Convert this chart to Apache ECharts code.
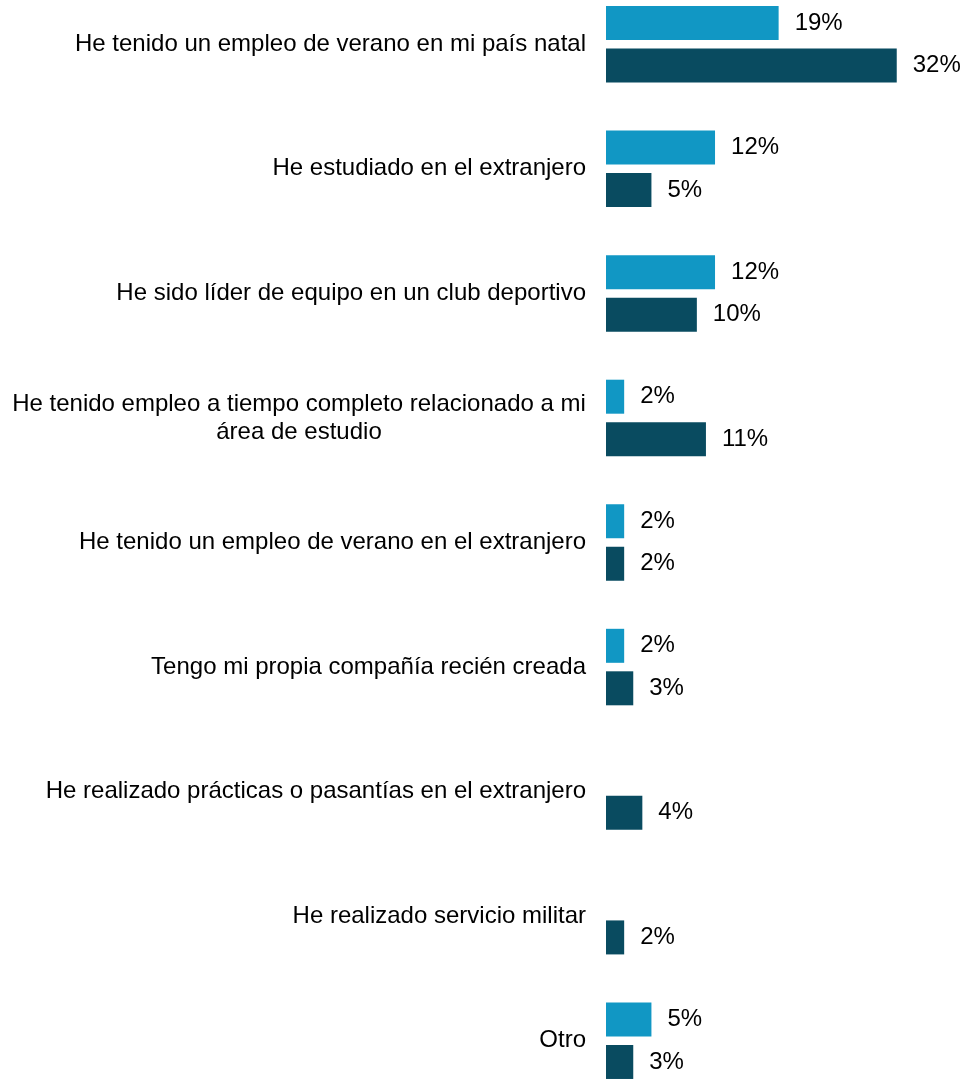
<!DOCTYPE html>
<html>
<head>
<meta charset="utf-8">
<script src="https://cdn.jsdelivr.net/npm/echarts@6/dist/echarts.min.js"></script>
<style>
html,body{margin:0;padding:0;background:#fff;overflow:hidden;width:962px;height:1079px;position:relative;}
#c{position:absolute;left:0;top:-18px;width:962px;height:1121px;}
</style>
</head>
<body>
<div id="c"></div>
<script>
const categories = [
  "He tenido un empleo de verano en mi país natal",
  "He estudiado en el extranjero",
  "He sido líder de equipo en un club deportivo",
  "He tenido empleo a tiempo completo relacionado a mi\nárea de estudio",
  "He tenido un empleo de verano en el extranjero",
  "Tengo mi propia compañía recién creada",
  "He realizado prácticas o pasantías en el extranjero",
  "He realizado servicio militar",
  "Otro"
];
const seriesA = [19, 12, 12, 2, 2, 2, null, null, 5];
const seriesB = [32, 5, 10, 11, 2, 3, 4, 2, 3];

const FONT = "'Liberation Sans', Arial, sans-serif";
const chart = echarts.init(document.getElementById('c'), null, {renderer: 'canvas'});
chart.setOption({
  animation: false,
  backgroundColor: '#ffffff',
  grid: {left: 606, right: 38, top: 0, bottom: 0, containLabel: false},
  xAxis: {
    type: 'value', min: 0, max: 35, show: false,
    splitLine: {show: false}
  },
  yAxis: {
    type: 'category', inverse: true, data: categories,
    axisLine: {show: false}, axisTick: {show: false},
    axisLabel: {
      margin: 20, color: '#000', fontSize: 24, fontFamily: FONT, lineHeight: 28,
      formatter: function (v) {
        if (v.indexOf('\n') >= 0) {
          return v.split('\n').map(s => '{c|' + s + '}').join('\n');
        }
        return v;
      },
      rich: {
        c: {width: 574, align: 'center', fontSize: 24, fontFamily: FONT, color: '#000', lineHeight: 28}
      }
    }
  },
  series: [
    {
      type: 'bar', data: seriesA, barWidth: 34, barGap: '25%',
      itemStyle: {color: '#1197c4'},
      label: {show: true, position: 'right', distance: 16, color: '#000', fontSize: 24, fontFamily: FONT, formatter: '{c}%'}
    },
    {
      type: 'bar', data: seriesB, barWidth: 34, barGap: '25%',
      itemStyle: {color: '#094b60'},
      label: {show: true, position: 'right', distance: 16, color: '#000', fontSize: 24, fontFamily: FONT, formatter: '{c}%'}
    }
  ]
});
</script>
</body>
</html>
